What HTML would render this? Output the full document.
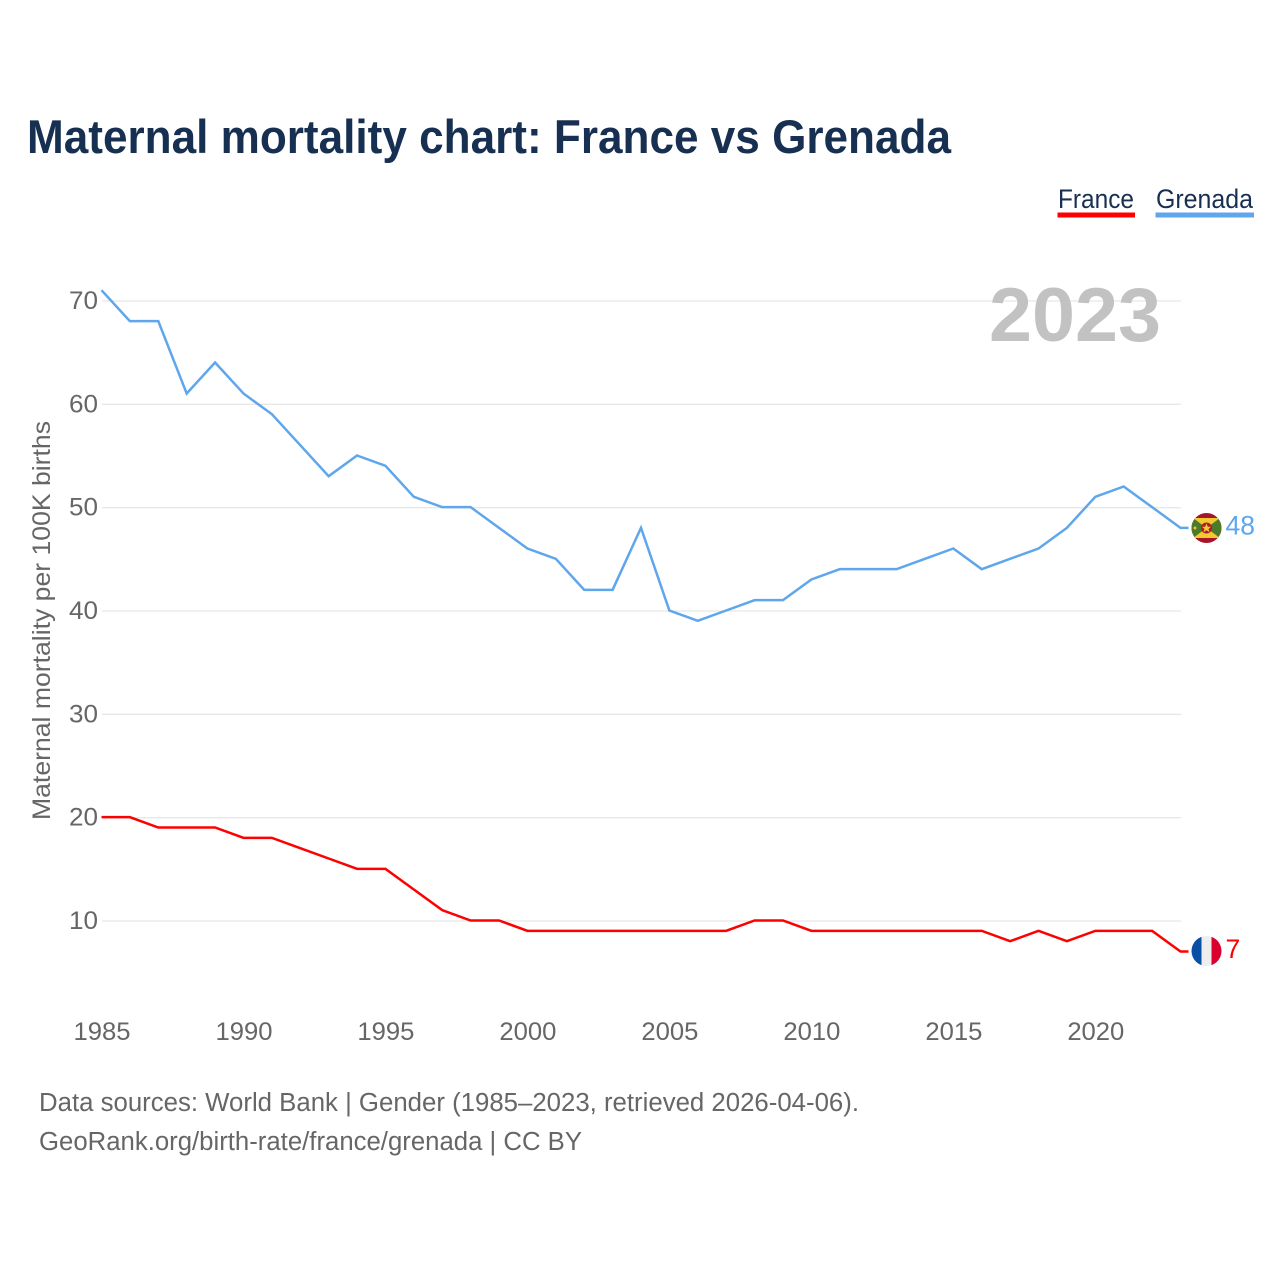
<!DOCTYPE html>
<html lang="en">
<head>
<meta charset="utf-8">
<title>Maternal mortality chart: France vs Grenada</title>
<style>
html,body{margin:0;padding:0;background:#fff;width:1280px;height:1280px;overflow:hidden}
svg{display:block}
text{font-family:"Liberation Sans",sans-serif}
</style>
</head>
<body>
<svg id="chart" width="1280" height="1280" viewBox="0 0 1280 1280" xmlns="http://www.w3.org/2000/svg">
  <rect width="1280" height="1280" fill="#fff"/>
  <text x="27" y="153" font-size="47" font-weight="700" fill="#173052" textLength="924" lengthAdjust="spacingAndGlyphs">Maternal mortality chart: France vs Grenada</text>

  <g>
    <text x="1058" y="208" font-size="27" fill="#173052" textLength="76" lengthAdjust="spacingAndGlyphs">France</text>
    <rect x="1057.500" y="212.500" width="77.500" height="5" fill="#ff0000"/>
  </g>
  <g>
    <text x="1156" y="208" font-size="27" fill="#173052" textLength="97" lengthAdjust="spacingAndGlyphs">Grenada</text>
    <rect x="1155.500" y="212.500" width="98.500" height="5" fill="#5fa6ec"/>
  </g>

  <g id="grid"></g>
  <text x="1161" y="341" text-anchor="end" font-size="76" font-weight="700" fill="#c2c2c2" textLength="172" lengthAdjust="spacingAndGlyphs">2023</text>
  <g id="yticks"></g>
  <g id="xticks"></g>
  <text transform="translate(50,820) rotate(-90)" font-size="25" fill="#666" textLength="399" lengthAdjust="spacingAndGlyphs">Maternal mortality per 100K births</text>
  <g id="series"></g>

  <g id="flag-grenada">
    <clipPath id="clip-gd"><circle cx="1206.500" cy="528" r="15"/></clipPath>
    <g clip-path="url(#clip-gd)">
      <rect x="1191" y="513" width="31" height="30" fill="#a8152b"/>
      <rect x="1191" y="518" width="31" height="20" fill="#4c7a2b"/>
      <polygon points="1193,518 1220,518 1206.500,528" fill="#f2c92e"/>
      <polygon points="1193,538 1220,538 1206.500,528" fill="#f2c92e"/>
      <circle cx="1206.500" cy="528" r="5.500" fill="#b01a2e"/>
      <polygon points="1206.500,523.500 1207.800,526.800 1211,526.800 1208.500,529 1209.500,532.300 1206.500,530.300 1203.500,532.300 1204.500,529 1202,526.800 1205.200,526.800" fill="#f2c92e"/>
      <circle cx="1195" cy="528" r="1.500" fill="#e8c43a"/>
    </g>
  </g>
  <g id="flag-france">
    <clipPath id="clip-fr"><circle cx="1206.500" cy="951" r="15"/></clipPath>
    <g clip-path="url(#clip-fr)">
      <rect x="1191" y="936" width="10.500" height="30" fill="#0a4fa6"/>
      <rect x="1201.500" y="936" width="10" height="30" fill="#eeeeee"/>
      <rect x="1211.500" y="936" width="10.500" height="30" fill="#d9002f"/>
    </g>
  </g>
  <g id="end-labels"></g>

  <text x="39" y="1111" font-size="25.500" fill="#666" textLength="820" lengthAdjust="spacingAndGlyphs">Data sources: World Bank | Gender (1985–2023, retrieved 2026-04-06).</text>
  <text x="39" y="1150" font-size="25.500" fill="#666" textLength="543" lengthAdjust="spacingAndGlyphs">GeoRank.org/birth-rate/france/grenada | CC BY</text>
</svg>
<script>
const years = [1985,1986,1987,1988,1989,1990,1991,1992,1993,1994,1995,1996,1997,1998,1999,2000,2001,2002,2003,2004,2005,2006,2007,2008,2009,2010,2011,2012,2013,2014,2015,2016,2017,2018,2019,2020,2021,2022,2023];
const grenadaValues = [71,68,68,61,64,61,59,56,53,55,54,51,50,50,48,46,45,42,42,48,40,39,40,41,41,43,44,44,44,45,46,44,45,46,48,51,52,50,48];
const franceValues = [20,20,19,19,19,18,18,17,16,15,15,13,11,10,10,9,9,9,9,9,9,9,9,10,10,9,9,9,9,9,9,9,8,9,8,9,9,9,7];
const yTickValues = [10,20,30,40,50,60,70];
const xTickValues = [1985,1990,1995,2000,2005,2010,2015,2020];

const NS = 'http://www.w3.org/2000/svg';
const X0 = 101.5, X1 = 1180.5, Y10 = 920.5, Y70 = 300.5;
const xMin = years[0], xMax = years[years.length - 1];
function xScale(v){ return X0 + (v - xMin) * (X1 - X0) / (xMax - xMin); }
function yScale(v){ return Y10 + (v - 10) * (Y70 - Y10) / 60; }
function make(tag, attrs, parent, txt){
  const el = document.createElementNS(NS, tag);
  for (const k in attrs) el.setAttribute(k, attrs[k]);
  if (txt !== undefined) el.textContent = txt;
  parent.appendChild(el);
  return el;
}
const grid = document.getElementById('grid');
const yticks = document.getElementById('yticks');
const xticks = document.getElementById('xticks');
const series = document.getElementById('series');
const endLabels = document.getElementById('end-labels');

yTickValues.forEach(function(v){
  const line = make('line', {x1:X0 + 0.5, x2:X1 + 0.5, y1:yScale(v) + 0.5, y2:yScale(v) + 0.5, stroke:'#e8e8e8', 'stroke-width':1.300}, grid);
  
  
  const t = make('text', {x:98, y:yScale(v) + 8.500, 'text-anchor':'end', 'font-size':25, fill:'#666', textLength:29, lengthAdjust:'spacingAndGlyphs'}, yticks, String(v));
  
  
});
xTickValues.forEach(function(v){
  const t = make('text', {x:xScale(v) + 0.5, y:1040, 'text-anchor':'middle', 'font-size':25, fill:'#666', textLength:57, lengthAdjust:'spacingAndGlyphs'}, xticks, String(v));
  
  
});
function drawSeries(values, color, name){
  const pts = values.map(function(v, i){ return xScale(years[i]).toFixed(2) + ',' + yScale(v).toFixed(2); });
  const last = values[values.length - 1];
  pts.push((xScale(xMax) + 8).toFixed(2) + ',' + yScale(last).toFixed(2));
  const line = make('polyline', {points:pts.join(' '), fill:'none', stroke:color, 'stroke-width':2.500, 'stroke-linejoin':'miter'}, series);
  
  
  const lab = make('text', {x:1225.500, y:yScale(last) + 6.500, 'font-size':26.500, fill:color}, endLabels, String(last));
  
  
}
drawSeries(grenadaValues, '#5fa6ec', 'grenada');
drawSeries(franceValues, '#ff0000', 'france');
</script>
</body>
</html>
